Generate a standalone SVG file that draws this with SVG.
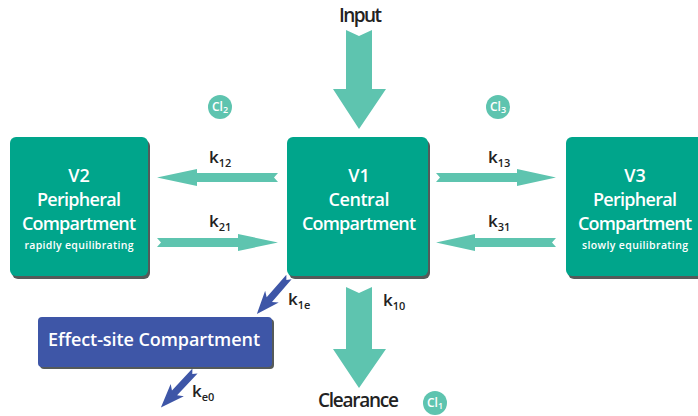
<svg xmlns="http://www.w3.org/2000/svg" width="698" height="416" viewBox="0 0 698 416">
<style>
.box{fill:#00a58b}
.shadow{fill:#555a5a}
.blue{fill:#3e56a7}
.arr{fill:#5ec4af}
.barr{fill:#3e56a7}
.t{font-family:"Open Sans","Liberation Sans",sans-serif;font-weight:600;fill:#ffffff;text-anchor:middle}
.big{font-size:18px}
.small{font-size:10.5px}
.lbl{font-family:"Open Sans","Liberation Sans",sans-serif;font-weight:600;fill:#222222;font-size:17px}
.sub{font-size:11px}
.cl{font-family:"Open Sans","Liberation Sans",sans-serif;font-weight:600;fill:#ffffff;font-size:12px;text-anchor:middle}
.circ{fill:#5ec4af}
</style>
<rect width="698" height="416" fill="#ffffff"/>
<g id="connectors">
  <polygon class="arr" points="346,30 359,36 372,30 372,89 386,89 359,129 333,89 346,89"/>
  <polygon class="arr" points="346,287 359,293 372,287 372,349 386,349 359,388 333,349 346,349"/>
  <polygon class="arr" points="157,177.5 197,169 197,173 278,173 274,177.5 278,182 197,182 197,186"/>
  <polygon class="arr" points="157,238 238,238 238,234 278,242.5 238,251 238,247 157,247 161,242.5"/>
  <polygon class="arr" points="436,173 517,173 517,169 556,177.5 517,186 517,182 436,182 440,177.5"/>
  <polygon class="arr" points="436,242.5 475,234 475,238 556,238 552,242.5 556,247 475,247 475,251"/>
  <polygon class="barr" transform="translate(289,277) rotate(131)" points="0,-3.5 30,-3.5 26,-9 49,0 26,9 30,3.5 0,3.5 4,0"/>
  <polygon class="barr" transform="translate(195,371) rotate(133)" points="0,-3.5 30,-3.5 26,-9 50,0 26,9 30,3.5 0,3.5 4,0"/>
</g>
<g id="labels">
  <text class="lbl" x="339" y="22" style="font-size:19px" textLength="43">Input</text>
  <text class="lbl" x="318" y="407" style="font-size:19px" textLength="81">Clearance</text>
  <text class="lbl" x="209" y="163">k<tspan class="sub" dy="4">12</tspan></text>
  <text class="lbl" x="209" y="227">k<tspan class="sub" dy="4">21</tspan></text>
  <text class="lbl" x="488" y="163">k<tspan class="sub" dy="4">13</tspan></text>
  <text class="lbl" x="488" y="227">k<tspan class="sub" dy="4">31</tspan></text>
  <text class="lbl" x="383" y="306">k<tspan class="sub" dy="4">10</tspan></text>
  <text class="lbl" x="288" y="305">k<tspan class="sub" dy="4">1e</tspan></text>
  <text class="lbl" x="192" y="397">k<tspan class="sub" dy="4">e0</tspan></text>
</g>
<g id="cl2">
  <circle class="circ" cx="220" cy="107" r="12"/>
  <text class="cl" x="220" y="111">Cl<tspan style="font-size:9px" dy="2">2</tspan></text>
</g>
<g id="cl3">
  <circle class="circ" cx="498" cy="107" r="12"/>
  <text class="cl" x="498" y="111">Cl<tspan style="font-size:9px" dy="2">3</tspan></text>
</g>
<g id="cl1">
  <circle class="circ" cx="435" cy="403" r="12"/>
  <text class="cl" x="435" y="407">Cl<tspan style="font-size:9px" dy="2">1</tspan></text>
</g>
<g id="v2">
  <rect class="shadow" x="12" y="140" width="138" height="139" rx="6"/>
  <rect class="box" x="10" y="137" width="138" height="139" rx="6"/>
  <text class="t big" x="79" y="182">V2</text>
  <text class="t big" x="79" y="206" textLength="84">Peripheral</text>
  <text class="t big" x="79" y="230" textLength="114">Compartment</text>
  <text class="t small" x="79" y="249" textLength="109">rapidly equilibrating</text>
</g>
<g id="v1">
  <rect class="shadow" x="289" y="140" width="141" height="139" rx="6"/>
  <rect class="box" x="287" y="137" width="141" height="139" rx="6"/>
  <text class="t big" x="359" y="182">V1</text>
  <text class="t big" x="359" y="206" textLength="61">Central</text>
  <text class="t big" x="359" y="230" textLength="114">Compartment</text>
</g>
<g id="v3">
  <rect class="shadow" x="568" y="140" width="140" height="139" rx="6"/>
  <rect class="box" x="566" y="137" width="140" height="139" rx="6"/>
  <text class="t big" x="635" y="182">V3</text>
  <text class="t big" x="635" y="206" textLength="84">Peripheral</text>
  <text class="t big" x="635" y="230" textLength="114">Compartment</text>
  <text class="t small" x="635" y="249" textLength="106">slowly equilibrating</text>
</g>
<g id="effect">
  <rect class="shadow" x="40" y="319" width="234" height="50" rx="4"/>
  <rect class="blue" x="38" y="317" width="234" height="50" rx="4"/>
  <text class="t" x="154" y="346" style="font-size:18px" textLength="212">Effect-site Compartment</text>
</g>
</svg>
